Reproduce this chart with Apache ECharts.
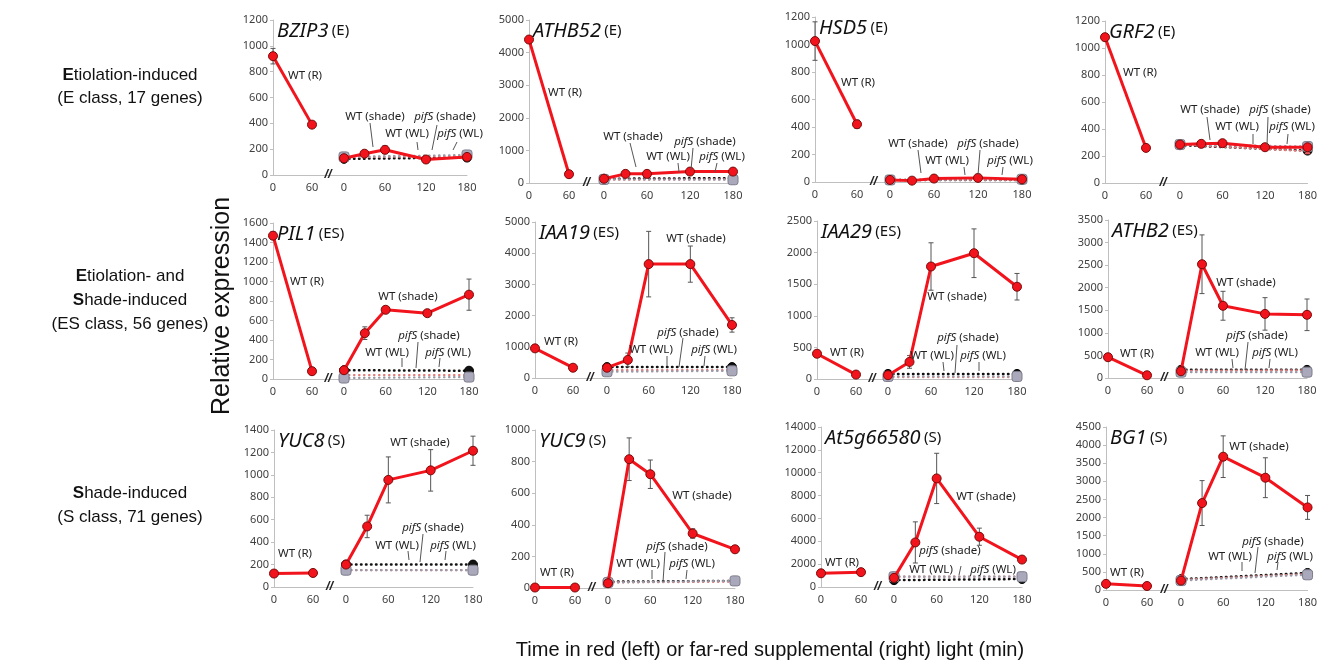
<!DOCTYPE html>
<html>
<head>
<meta charset="utf-8">
<script src="https://cdn.jsdelivr.net/npm/echarts@6/dist/echarts.min.js"></script>
<style>
  html, body { margin: 0; padding: 0; background: #fff; }
  #chart { width: 1320px; height: 664px; }
</style>
</head>
<body>
<div id="chart"></div>
<script>
// gene panels, row by row
const genes = ['BZIP3', 'ATHB52', 'HSD5', 'GRF2', 'PIL1', 'IAA19', 'IAA29', 'ATHB2', 'YUC8', 'YUC9', 'At5g66580', 'BG1'];
const geneClass = ['E', 'E', 'E', 'E', 'ES', 'ES', 'ES', 'ES', 'S', 'S', 'S', 'S'];
const yMax = [1200, 5000, 1200, 1200, 1600, 5000, 2500, 3500, 1400, 1000, 14000, 4500];
const yStep = [200, 1000, 200, 200, 200, 1000, 500, 500, 200, 200, 2000, 500];

const redTimes = [0, 60];
const shadeTimes = [0, 30, 60, 120, 180];
const wlTimes = [0, 180];

// WT in red light (left part)
const wtRed = [[920, 390], [4400, 270], [1025, 420], [1080, 260], [1470, 80], [950, 330],
  [400, 70], [460, 60], [120, 125], [3, 3], [1200, 1300], [170, 110]];
const wtRedErr = [[60, 20], [60, 40], [140, 30], [20, 15], [40, 10], [100, 20],
  [20, 10], [20, 10], [10, 10], [1, 1], [80, 60], [20, 10]];

// WT under shade (right part)
const wtShade = [
  [130, 165, 195, 120, 140],
  [130, 280, 280, 350, 350],
  [15, 10, 25, 30, 20],
  [285, 290, 295, 265, 265],
  [90, 470, 710, 675, 865],
  [330, 580, 3650, 3650, 1700],
  [60, 270, 1780, 1990, 1460],
  [150, 2520, 1600, 1420, 1400],
  [200, 540, 955, 1040, 1215],
  [30, 815, 720, 345, 245],
  [800, 3900, 9500, 4400, 2400],
  [260, 2400, 3680, 3100, 2280]
];
const wtShadeErr = [
  [15, 25, 30, 15, 15],
  [40, 60, 60, 50, 60],
  [8, 8, 8, 10, 8],
  [20, 20, 25, 20, 25],
  [20, 65, 25, 20, 160],
  [60, 220, 1050, 580, 230],
  [30, 100, 375, 385, 210],
  [40, 650, 320, 360, 350],
  [20, 100, 205, 185, 130],
  [5, 135, 90, 30, 10],
  [150, 1800, 2200, 750, 200],
  [40, 620, 575, 550, 330]
];

// controls at 0 and 180 min
const wtWL = [[125, 135], [130, 150], [15, 15], [280, 240], [90, 85], [350, 350],
  [80, 80], [180, 180], [200, 200], [40, 45], [600, 700], [300, 470]];
const pifShade = [[140, 145], [100, 110], [15, 15], [285, 235], [40, 40], [250, 250],
  [30, 30], [160, 170], [150, 150], [35, 40], [900, 900], [280, 440]];
const pifWL = [[140, 155], [110, 100], [15, 20], [285, 270], [10, 20], [200, 230],
  [40, 40], [130, 130], [150, 150], [35, 45], [900, 900], [260, 420]];

// panel frames: y-axis x, x of left "60", x of right "0", x of right "180", top, bottom
const panelBox = [
  [273, 312, 344, 467, 20, 175], [529, 569, 604, 733, 20, 183],
  [815, 857, 890, 1022, 17, 182], [1105, 1146, 1180, 1310, 21, 183],
  [273, 312, 344, 469, 223, 379], [535, 573, 607, 732, 222, 378],
  [817, 856, 888, 1017, 221, 379], [1108, 1147, 1181, 1307, 220, 378],
  [274, 313, 346, 473, 430, 587], [535, 575, 608, 735, 430, 588],
  [821, 861, 894, 1022, 427, 587], [1106, 1147, 1181, 1311, 427, 590]
];

// in-plot labels [text, x, y] and their leader lines
const notes = [
  [['WT (R)', 305, 76], ['WT (shade)', 375, 117], ['{i|pifS} (shade)', 445, 117], ['WT (WL)', 407, 134], ['{i|pifS} (WL)', 460, 134]],
  [['WT (R)', 565, 93], ['WT (shade)', 633, 137], ['{i|pifS} (shade)', 705, 142], ['WT (WL)', 668, 157], ['{i|pifS} (WL)', 722, 157]],
  [['WT (R)', 858, 83], ['WT (shade)', 918, 144], ['{i|pifS} (shade)', 988, 144], ['WT (WL)', 947, 161], ['{i|pifS} (WL)', 1010, 161]],
  [['WT (R)', 1140, 73], ['WT (shade)', 1210, 110], ['{i|pifS} (shade)', 1280, 110], ['WT (WL)', 1237, 127], ['{i|pifS} (WL)', 1292, 127]],
  [['WT (R)', 307, 282], ['WT (shade)', 408, 297], ['{i|pifS} (shade)', 429, 336], ['WT (WL)', 387, 353], ['{i|pifS} (WL)', 448, 353]],
  [['WT (R)', 561, 342], ['WT (shade)', 696, 239], ['{i|pifS} (shade)', 688, 333], ['WT (WL)', 651, 350], ['{i|pifS} (WL)', 714, 350]],
  [['WT (R)', 847, 353], ['WT (shade)', 957, 297], ['{i|pifS} (shade)', 968, 338], ['WT (WL)', 932, 356], ['{i|pifS} (WL)', 983, 356]],
  [['WT (R)', 1137, 354], ['WT (shade)', 1246, 283], ['{i|pifS} (shade)', 1257, 336], ['WT (WL)', 1217, 353], ['{i|pifS} (WL)', 1275, 353]],
  [['WT (R)', 295, 554], ['WT (shade)', 420, 443], ['{i|pifS} (shade)', 433, 528], ['WT (WL)', 397, 546], ['{i|pifS} (WL)', 453, 546]],
  [['WT (R)', 557, 573], ['WT (shade)', 702, 496], ['{i|pifS} (shade)', 677, 547], ['WT (WL)', 638, 564], ['{i|pifS} (WL)', 692, 564]],
  [['WT (R)', 842, 563], ['WT (shade)', 986, 497], ['{i|pifS} (shade)', 950, 551], ['WT (WL)', 931, 570], ['{i|pifS} (WL)', 993, 570]],
  [['WT (R)', 1127, 573], ['WT (shade)', 1259, 447], ['{i|pifS} (shade)', 1273, 542], ['WT (WL)', 1230, 557], ['{i|pifS} (WL)', 1290, 557]]
];
const leaders = [
  [[370, 123, 373, 147], [437, 125, 432, 150], [417, 142, 418, 150], [457, 142, 453, 150]],
  [[630, 143, 636, 167], [693, 148, 691, 170], [678, 163, 679, 172], [717, 163, 715, 172]],
  [[918, 150, 921, 173], [980, 150, 978, 175], [964, 167, 965, 175], [1003, 167, 1002, 175]],
  [[1207, 117, 1210, 140], [1268, 117, 1267, 145], [1253, 134, 1253, 144], [1288, 134, 1287, 144]],
  [[418, 342, 416, 368], [402, 358, 402, 367], [440, 358, 439, 367]],
  [[683, 338, 679, 367], [667, 356, 667, 366], [705, 356, 704, 366]],
  [[957, 345, 955, 373], [943, 362, 944, 371], [979, 362, 979, 371]],
  [[1248, 342, 1245, 370], [1232, 359, 1233, 368], [1270, 359, 1269, 368]],
  [[423, 534, 420, 562], [408, 551, 409, 560], [446, 551, 445, 560]],
  [[665, 552, 663, 582], [652, 570, 652, 579], [687, 570, 686, 579]],
  [[961, 566, 959, 575]],
  [[1258, 547, 1255, 573], [1242, 562, 1242, 571], [1278, 562, 1277, 570]]
];

const RED = '#f2141c';
const AXIS = '#bfbfbf';
const FONT = 'Noto Sans';
const SANS = 'Liberation Sans';

function errorBars(params, api) {
  const x = api.value(0);
  const top = api.coord([x, api.value(2)]);
  const bot = api.coord([x, api.value(1)]);
  const w = 2.5;
  const st = { stroke: '#555', lineWidth: 1 };
  return {
    type: 'group',
    children: [
      { type: 'line', shape: { x1: top[0], y1: top[1], x2: bot[0], y2: bot[1] }, style: st },
      { type: 'line', shape: { x1: top[0] - w, y1: top[1], x2: top[0] + w, y2: top[1] }, style: st },
      { type: 'line', shape: { x1: bot[0] - w, y1: bot[1], x2: bot[0] + w, y2: bot[1] }, style: st }
    ]
  };
}

const grids = [], xAxes = [], yAxes = [], series = [], graphics = [];

genes.forEach((g, i) => {
  const [ax, l60, r0, r180, top, bottom] = panelBox[i];
  const h = bottom - top;
  const L = 2 * i, R = 2 * i + 1;
  grids.push({ left: ax, top: top, width: r0 - ax, height: h });
  grids.push({ left: r0, top: top, width: r180 - r0, height: h });

  const xLabel = { fontSize: 11, color: '#404040', fontFamily: FONT, margin: 7 };
  xAxes.push({
    type: 'value', gridIndex: L, min: 0, max: 60 * (r0 - ax) / (l60 - ax), interval: 60,
    axisLine: { lineStyle: { color: AXIS, width: 1 } }, axisTick: { show: false }, splitLine: { show: false },
    axisLabel: Object.assign({}, xLabel, { formatter: v => (v === 0 || v === 60) ? String(v) : '' })
  });
  xAxes.push({
    type: 'value', gridIndex: R, min: 0, max: 180, interval: 60,
    axisLine: { lineStyle: { color: AXIS, width: 1 } }, axisTick: { show: false }, splitLine: { show: false },
    axisLabel: Object.assign({}, xLabel, { formatter: v => String(v) })
  });
  yAxes.push({
    type: 'value', gridIndex: L, min: 0, max: yMax[i], interval: yStep[i],
    axisLine: { show: true, lineStyle: { color: AXIS, width: 1 } },
    axisTick: { show: true, length: 3, lineStyle: { color: AXIS } },
    splitLine: { show: false },
    axisLabel: { fontSize: 11, color: '#404040', fontFamily: FONT, margin: 5, formatter: v => String(v) }
  });
  yAxes.push({ type: 'value', gridIndex: R, min: 0, max: yMax[i], show: false, splitLine: { show: false } });

  // left part: WT in red light
  series.push({
    type: 'custom', xAxisIndex: L, yAxisIndex: L, renderItem: errorBars, z: 3,
    data: redTimes.map((t, k) => [t, wtRed[i][k] - wtRedErr[i][k], wtRed[i][k] + wtRedErr[i][k]])
  });
  series.push({
    type: 'line', name: 'WT (R)', xAxisIndex: L, yAxisIndex: L, z: 4,
    data: redTimes.map((t, k) => [t, wtRed[i][k]]),
    lineStyle: { color: RED, width: 3 }, symbol: 'circle', symbolSize: 9,
    itemStyle: { color: RED, borderColor: '#7a0a0a', borderWidth: 1 }
  });

  // right part: controls
  series.push({
    type: 'line', name: 'WT (WL)', xAxisIndex: R, yAxisIndex: R, z: 2,
    data: wlTimes.map((t, k) => [t, wtWL[i][k]]),
    lineStyle: { color: '#111', width: 2.5, type: [0.5, 4.5], cap: 'round' },
    symbol: 'circle', symbolSize: 9, itemStyle: { color: '#111', borderColor: '#000', borderWidth: 1 }
  });
  series.push({
    type: 'line', name: 'pifS (shade)', xAxisIndex: R, yAxisIndex: R, z: 2,
    data: wlTimes.map((t, k) => [t, pifShade[i][k]]),
    lineStyle: { color: '#e47a7a', width: 2.2, type: [0.5, 4.5], cap: 'round' },
    symbol: 'triangle', symbolSize: 6, itemStyle: { color: '#e05a5a' }
  });
  series.push({
    type: 'line', name: 'pifS (WL)', xAxisIndex: R, yAxisIndex: R, z: 3,
    data: wlTimes.map((t, k) => [t, pifWL[i][k]]),
    lineStyle: { color: '#9a9aa8', width: 2.2, type: [0.5, 4.5], cap: 'round' },
    symbol: 'roundRect', symbolSize: 10, itemStyle: { color: '#a9a9bb', borderColor: '#7d7d8c', borderWidth: 1 }
  });

  // right part: WT under shade
  series.push({
    type: 'custom', xAxisIndex: R, yAxisIndex: R, renderItem: errorBars, z: 3,
    data: shadeTimes.map((t, k) => [t, wtShade[i][k] - wtShadeErr[i][k], wtShade[i][k] + wtShadeErr[i][k]])
  });
  series.push({
    type: 'line', name: 'WT (shade)', xAxisIndex: R, yAxisIndex: R, z: 5,
    data: shadeTimes.map((t, k) => [t, wtShade[i][k]]),
    lineStyle: { color: RED, width: 3 }, symbol: 'circle', symbolSize: 9,
    itemStyle: { color: RED, borderColor: '#7a0a0a', borderWidth: 1 }
  });

  // panel title
  graphics.push({
    type: 'text', left: ax + 4, top: top + 1, z: 20,
    style: {
      text: '{g|' + g + '} {c|(' + geneClass[i] + ')}',
      rich: {
        g: { fontSize: 20, fontStyle: 'italic', fontFamily: FONT, fill: '#111' },
        c: { fontSize: 15, fontFamily: FONT, fill: '#111' }
      }
    }
  });
  // axis break
  graphics.push({
    type: 'text', x: (l60 + r0) / 2, y: bottom - 1, z: 20,
    style: { text: '//', fontSize: 13, fontWeight: 'bold', fontStyle: 'italic', fontFamily: SANS,
      fill: '#222', align: 'center', verticalAlign: 'middle' }
  });
  // in-plot labels
  notes[i].forEach(n => {
    graphics.push({
      type: 'text', x: n[1], y: n[2], z: 20,
      style: {
        text: n[0], fontSize: 11.5, fontFamily: FONT, fill: '#222', align: 'center', verticalAlign: 'middle',
        rich: { i: { fontStyle: 'italic', fontSize: 11.5, fontFamily: FONT, fill: '#222' } }
      }
    });
  });
  leaders[i].forEach(s => {
    graphics.push({
      type: 'line', z: 20, shape: { x1: s[0], y1: s[1], x2: s[2], y2: s[3] },
      style: { stroke: '#555', lineWidth: 1 }
    });
  });
});

// row descriptions
const rowText = [
  ['{b|E}tiolation-induced', 130, 75], ['(E class, 17 genes)', 130, 98],
  ['{b|E}tiolation- and', 130, 276], ['{b|S}hade-induced', 130, 300], ['(ES class, 56 genes)', 130, 324],
  ['{b|S}hade-induced', 130, 493], ['(S class, 71 genes)', 130, 517]
];
rowText.forEach(r => {
  graphics.push({
    type: 'text', x: r[1], y: r[2],
    style: {
      text: r[0], fontSize: 17, fontFamily: SANS, fill: '#111', align: 'center', verticalAlign: 'middle',
      rich: { b: { fontSize: 17, fontWeight: 'bold', fontFamily: SANS, fill: '#111' } }
    }
  });
});
graphics.push({
  type: 'text', x: 222, y: 306, rotation: Math.PI / 2,
  style: { text: 'Relative expression', fontSize: 25, fontFamily: SANS, fill: '#111', align: 'center', verticalAlign: 'middle' }
});
graphics.push({
  type: 'text', x: 770, y: 650,
  style: { text: 'Time in red (left) or far-red supplemental (right) light (min)', fontSize: 20, fontFamily: SANS,
    fill: '#111', align: 'center', verticalAlign: 'middle' }
});

const chart = echarts.init(document.getElementById('chart'));
chart.setOption({
  backgroundColor: '#ffffff',
  animation: false,
  grid: grids,
  xAxis: xAxes,
  yAxis: yAxes,
  series: series,
  graphic: graphics
});
</script>
</body>
</html>
